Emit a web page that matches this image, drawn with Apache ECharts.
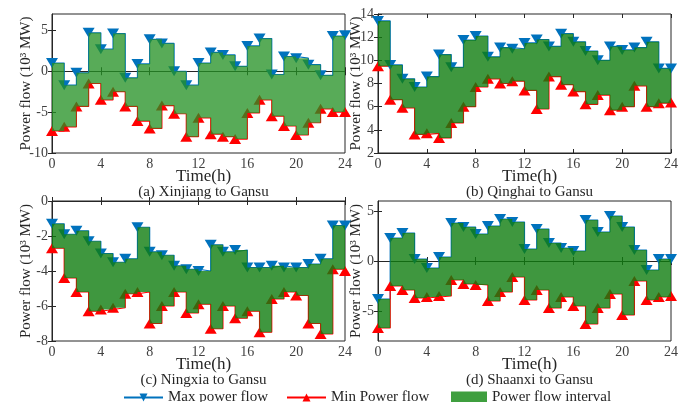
<!DOCTYPE html>
<html>
<head>
<meta charset="utf-8">
<script src="https://cdn.jsdelivr.net/npm/echarts@6/dist/echarts.min.js"></script>
<style>
  html, body { margin: 0; padding: 0; background: #fff; }
  #chart { width: 691px; height: 402px; }
</style>
</head>
<body>
<div id="chart"></div>
<script>
const hours = [0, 1, 2, 3, 4, 5, 6, 7, 8, 9, 10, 11, 12, 13, 14, 15, 16, 17, 18, 19, 20, 21, 22, 23, 24];

// (a) Xinjiang to Gansu
const xjMax = [1.0, -1.7, -0.2, 4.7, 2.7, 4.6, -0.8, 0.9, 3.9, 3.4, 0.0, -1.7, 1.0, 2.3, 2.0, 0.6, 3.1, 4.0, -0.4, 1.8, 1.6, 0.8, -0.5, 4.3, 4.4];
const xjMin = [-7.3, -6.8, -4.3, -1.5, -3.5, -2.5, -4.3, -6.1, -7.0, -4.2, -5.2, -8.0, -5.7, -7.7, -8.0, -8.3, -5.1, -3.5, -5.5, -6.7, -7.8, -6.3, -4.6, -5.0, -5.0];

// (b) Qinghai to Gansu
const qhMax = [13.4, 9.6, 8.4, 7.7, 8.6, 10.5, 9.4, 11.75, 12.1, 10.3, 11.1, 11.0, 11.5, 11.8, 11.2, 12.3, 11.6, 10.8, 10.0, 11.2, 10.9, 11.1, 11.6, 9.3, 9.3];
const qhMin = [9.5, 6.6, 5.9, 3.6, 3.7, 3.3, 4.6, 6.0, 7.7, 8.4, 8.0, 8.2, 7.4, 5.8, 8.6, 7.9, 7.3, 6.2, 7.0, 5.7, 6.0, 7.8, 6.0, 6.3, 6.35];

// (c) Ningxia to Gansu
const nxMax = [-1.3, -1.9, -1.7, -2.3, -3.0, -3.5, -3.3, -1.5, -2.9, -3.1, -3.7, -3.9, -4.0, -2.5, -2.9, -2.8, -3.8, -3.8, -3.7, -3.8, -3.8, -3.6, -3.3, -1.4, -1.4];
const nxMin = [-2.7, -4.4, -5.2, -6.3, -6.2, -6.1, -5.3, -5.2, -7.0, -6.0, -5.2, -6.4, -5.9, -7.3, -6.0, -6.7, -6.3, -7.5, -5.6, -5.2, -5.4, -7.0, -7.6, -3.9, -4.0];

// (d) Shaanxi to Gansu
const sxMax = [-3.8, 2.3, 2.8, 0.2, -0.7, 0.4, 3.8, 3.4, 2.7, 3.5, 4.2, 3.9, 1.2, 3.2, 1.8, 1.3, 1.0, 4.1, 2.9, 4.5, 3.4, 1.1, -0.9, 0.2, 0.2];
const sxMin = [-6.7, -2.5, -2.9, -3.7, -3.6, -3.5, -1.9, -2.3, -2.4, -4.0, -3.1, -1.6, -3.9, -2.9, -4.7, -3.6, -4.5, -6.3, -4.7, -3.3, -5.4, -2.0, -3.9, -3.6, -3.5];

const captions = ['(a) Xinjiang to Gansu', '(b) Qinghai to Gansu', '(c) Ningxia to Gansu', '(d) Shaanxi to Gansu'];

const FONT = 'Liberation Serif';
const maxColor = '#0072BD';
const minColor = '#FF0000';
const bandLegendColor = '#3f9f3f';

const panels = [
  { max: xjMax, min: xjMin, grid: { left: 52, top: 14, width: 293, height: 139 }, y: { min: -10, max: 7, ticks: [-10, -5, 0, 5] }, fill: 'rgba(35,145,35,0.76)', nameGap: 18 },
  { max: qhMax, min: qhMin, grid: { left: 378, top: 14, width: 293, height: 139 }, y: { min: 2, max: 14, ticks: [2, 4, 6, 8, 10, 12, 14] }, fill: 'rgba(15,125,15,0.8)', nameGap: 14 },
  { max: nxMax, min: nxMin, grid: { left: 52, top: 201, width: 293, height: 140 }, y: { min: -8, max: 0, ticks: [-8, -6, -4, -2, 0] }, fill: 'rgba(15,125,15,0.8)', nameGap: 18 },
  { max: sxMax, min: sxMin, grid: { left: 378, top: 201, width: 293, height: 140 }, y: { min: -8, max: 6, ticks: [-5, 0, 5] }, fill: 'rgba(15,125,15,0.8)', nameGap: 14 },
];

function pairs(values) {
  return hours.map((h, i) => [h, values[i]]);
}

// stairs-shaped band between max and min, converted through the axes
function bandRenderer(p) {
  return function (params, api) {
    if (params.dataIndex !== 0) return null;
    const top = [];
    const bottom = [];
    for (let k = 0; k < hours.length; k++) {
      const x0 = hours[k];
      const x1 = k + 1 < hours.length ? hours[k + 1] : hours[k];
      top.push(api.coord([x0, p.max[k]]), api.coord([x1, p.max[k]]));
      bottom.push(api.coord([x0, p.min[k]]), api.coord([x1, p.min[k]]));
    }
    const points = top.concat(bottom.reverse());
    return {
      type: 'polygon',
      shape: { points: points },
      style: { fill: p.fill, stroke: null },
    };
  };
}

const grids = [];
const xAxes = [];
const yAxes = [];
const series = [];
const titles = [];

panels.forEach((p, i) => {
  grids.push(Object.assign({ show: true, borderColor: '#262626', borderWidth: 1, backgroundColor: 'transparent' }, p.grid));

  const tickStyle = { show: true, inside: true, length: 4, lineStyle: { color: '#262626', width: 1 } };
  // bottom / left axes with labels
  xAxes.push({
    type: 'value', gridIndex: i, min: 0, max: 24, interval: 4,
    axisLine: { show: true, lineStyle: { color: '#262626' } },
    axisTick: tickStyle,
    splitLine: { show: false },
    axisLabel: { color: '#404040', fontFamily: FONT, fontSize: 14, margin: 4 },
  });
  yAxes.push({
    type: 'value', gridIndex: i, min: p.y.min, max: p.y.max,
    axisLine: { show: true, lineStyle: { color: '#262626' } },
    axisTick: Object.assign({ customValues: p.y.ticks }, tickStyle),
    splitLine: { show: false },
    axisLabel: { customValues: p.y.ticks, color: '#404040', fontFamily: FONT, fontSize: 14, margin: 4 },
    name: 'Power flow (10\u00B3 MW)', nameLocation: 'middle', nameGap: p.nameGap, nameMoveOverlap: false,
    nameTextStyle: { color: '#262626', fontFamily: FONT, fontSize: 15 },
  });
  // top / right axes: ticks only, like a MATLAB box
  xAxes.push({
    type: 'value', gridIndex: i, min: 0, max: 24, interval: 4, position: 'top',
    axisLine: { show: false }, axisTick: tickStyle, axisLabel: { show: false }, splitLine: { show: false },
  });
  yAxes.push({
    type: 'value', gridIndex: i, min: p.y.min, max: p.y.max, position: 'right',
    axisLine: { show: false }, axisTick: Object.assign({ customValues: p.y.ticks }, tickStyle),
    axisLabel: { show: false, customValues: p.y.ticks }, splitLine: { show: false },
  });

  const xi = i * 2;
  const yi = i * 2;

  series.push({
    type: 'line', name: 'Max power flow', xAxisIndex: xi, yAxisIndex: yi, step: 'end',
    data: pairs(p.max), color: maxColor, lineStyle: { width: 1.2, color: maxColor },
    symbol: 'triangle', symbolRotate: 180, symbolSize: [12, 10], itemStyle: { color: maxColor }, z: 2,
  });
  series.push({
    type: 'line', name: 'Min Power flow', xAxisIndex: xi, yAxisIndex: yi, step: 'end',
    data: pairs(p.min), color: minColor, lineStyle: { width: 1.2, color: minColor },
    symbol: 'triangle', symbolSize: [12, 10], itemStyle: { color: minColor }, z: 2,
  });
  series.push({
    type: 'custom', name: 'Power flow interval', xAxisIndex: xi, yAxisIndex: yi,
    data: hours.map((h, k) => [h, p.max[k], p.min[k]]),
    encode: { x: 0, y: [1, 2] },
    renderItem: bandRenderer(p),
    itemStyle: { color: bandLegendColor }, color: bandLegendColor,
    silent: true, z: 3,
  });

  const cx = p.grid.left + p.grid.width / 2;
  const baseY = p.grid.top + p.grid.height;
  titles.push({
    text: 'Time(h)', left: cx, top: baseY + 10, textAlign: 'center',
    textStyle: { fontFamily: FONT, fontSize: 17, fontWeight: 'normal', color: '#262626' },
  });
  titles.push({
    text: captions[i], left: cx, top: baseY + 27, textAlign: 'center',
    textStyle: { fontFamily: FONT, fontSize: 15, fontWeight: 'normal', color: '#262626' },
  });
});

const legendText = { fontFamily: FONT, fontSize: 15, color: '#262626', padding: [0, 0, 0, 0] };

const option = {
  animation: false,
  backgroundColor: '#fff',
  title: titles,
  grid: grids,
  xAxis: xAxes,
  yAxis: yAxes,
  series: series,
  legend: [
    { left: 118, top: 385, itemWidth: 39, itemHeight: 10, itemGap: 0, textStyle: legendText, data: ['Max power flow'] },
    { left: 281, top: 385, itemWidth: 39, itemHeight: 10, itemGap: 0, textStyle: legendText, data: ['Min Power flow'] },
    { left: 446, top: 385, itemWidth: 36, itemHeight: 12, itemGap: 0, textStyle: legendText,
      data: [{ name: 'Power flow interval', icon: 'rect', itemStyle: { color: bandLegendColor } }] },
  ],
};

const myChart = echarts.init(document.getElementById('chart'));
myChart.setOption(option);
</script>
</body>
</html>
